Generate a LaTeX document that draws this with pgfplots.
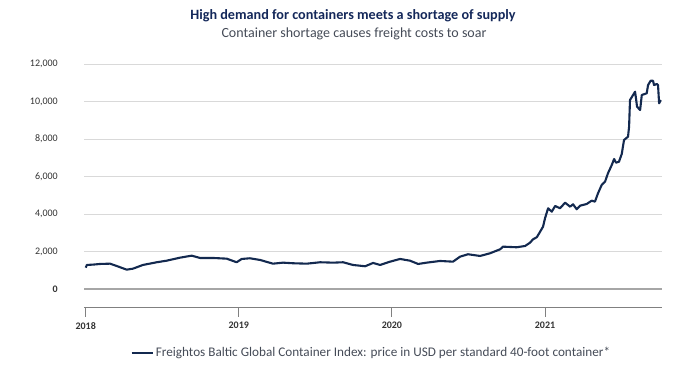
\documentclass[border=0pt]{standalone}
\usepackage{pgfplots}
\pgfplotsset{compat=1.18}
\usepackage{fontspec}
\setmainfont{Carlito}
\definecolor{navy}{HTML}{14285A}
\definecolor{linec}{HTML}{13294F}
\definecolor{subc}{HTML}{454B57}
\definecolor{tickc}{HTML}{333333}
\definecolor{gridc}{HTML}{D9D9D9}
\definecolor{zeroc}{HTML}{A6A6A6}
\definecolor{axc}{HTML}{808080}
\begin{document}
\begin{tikzpicture}[x=1pt,y=1pt]
\path[use as bounding box] (0,0) rectangle (694,368);
\node[font=\bfseries\fontsize{14.2}{16}\selectfont, text=navy] at (353,352) {High demand for containers meets a shortage of supply};
\node[font=\fontsize{14}{16}\selectfont, text=subc] at (354,334) {Container shortage causes freight costs to soar};
\begin{axis}[
  at={(84.3pt,60.3pt)}, anchor=south west,
  scale only axis, width=577.4pt, height=243.7pt,
  xmin=2017.991, xmax=2021.762, ymin=-1000, ymax=12000,
  /pgf/number format/assume math mode=true,
  axis lines*=left,
  y axis line style={draw=none},
  x axis line style={draw=axc, line width=1pt},
  ytick={2000,4000,6000,8000,10000,12000},
  extra y ticks={0},
  extra y tick style={grid style={draw=zeroc, line width=1.6pt}, yticklabel style={font=\bfseries\fontsize{10}{11}\selectfont}},
  ymajorgrids, grid style={draw=gridc, line width=0.9pt},
  ytick style={draw=none},
  yticklabel style={font=\fontsize{10}{11}\selectfont, text=tickc, xshift=-14pt},
  yticklabel={\pgfmathprintnumber[1000 sep={,}]{\tick}},
  scaled y ticks=false,
  xtick={2018,2019,2020,2021},
  xticklabels={2018,2019,2020,2021},
  xtick style={draw=axc, line width=1pt},
  tick align=outside, major tick length=9pt,
  xticklabel style={font=\bfseries\fontsize{10}{12}\selectfont, text=tickc, yshift=-2pt},
  legend style={at={(0.497,-0.186)}, anchor=center, draw=none, fill=none, font=\fontsize{13.2}{15}\selectfont, text=subc, legend cell align=left},
  legend image code/.code={\draw[line width=2.5pt, linec] (0pt,0pt) -- (21pt,0pt);},
  clip=false,
]
\addplot[linec, line width=2.1pt, line join=round] coordinates {
(2018.000,1136) (2018.008,1280) (2018.050,1300) (2018.093,1333) (2018.159,1349) (2018.202,1227)
(2018.268,1029) (2018.309,1083) (2018.374,1280) (2018.464,1424) (2018.529,1509)
(2018.616,1669) (2018.692,1776) (2018.747,1653) (2018.832,1653) (2018.921,1616)
(2018.986,1424) (2019.019,1600) (2019.073,1637) (2019.139,1547) (2019.223,1349)
(2019.289,1403) (2019.354,1371) (2019.444,1349) (2019.531,1424) (2019.616,1403)
(2019.681,1424) (2019.746,1280) (2019.825,1211) (2019.877,1387) (2019.923,1280)
(2019.988,1456) (2020.053,1600) (2020.118,1509) (2020.171,1333) (2020.227,1403)
(2020.314,1493) (2020.399,1456) (2020.445,1723) (2020.497,1851) (2020.576,1760)
(2020.641,1904) (2020.707,2117) (2020.726,2256) (2020.815,2224) (2020.870,2293)
(2020.902,2469) (2020.922,2650) (2020.946,2757) (2020.968,3056) (2020.987,3322)
(2021.000,3770) (2021.020,4304) (2021.044,4122) (2021.066,4426) (2021.098,4304)
(2021.131,4602) (2021.164,4389) (2021.183,4517) (2021.207,4250) (2021.229,4442)
(2021.272,4533) (2021.305,4709) (2021.326,4656) (2021.346,5104) (2021.370,5546)
(2021.392,5722) (2021.411,6170) (2021.436,6613) (2021.451,6933) (2021.464,6736)
(2021.483,6789) (2021.501,7200) (2021.516,7946) (2021.542,8122) (2021.549,8656)
(2021.555,10079) (2021.575,10346) (2021.588,10522) (2021.594,10170) (2021.601,9722)
(2021.621,9546) (2021.632,10346) (2021.664,10437) (2021.673,10879) (2021.690,11109)
(2021.705,11109) (2021.712,10879) (2021.730,10933) (2021.738,10879) (2021.745,9903)
(2021.756,10079)
};
\addlegendentry{Freightos Baltic Global Container Index: price in USD per standard 40-foot container*}
\end{axis}
\end{tikzpicture}
\end{document}
